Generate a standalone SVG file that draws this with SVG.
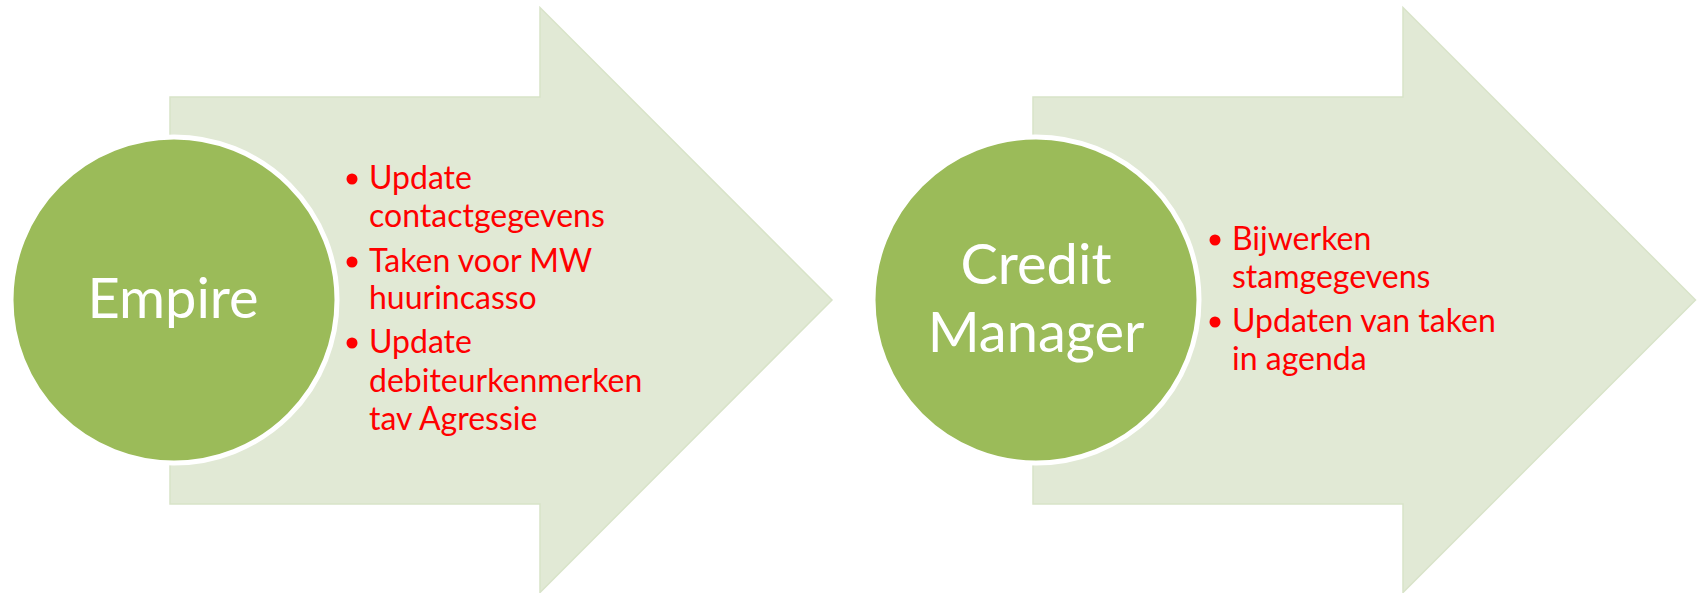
<svg xmlns="http://www.w3.org/2000/svg" width="1698" height="593" viewBox="0 0 1698 593">
<style>
.arrow{fill:#E1E9D5;stroke:#D8E3C8;stroke-width:1.5}
.circ{fill:#9BBB59;stroke:#FFFFFF;stroke-width:5}
.title{font-family:Lato,"Open Sans",sans-serif;font-size:56px;fill:#FFFFFF;text-anchor:middle}
.item{font-family:Lato,"Open Sans",sans-serif;font-size:32px;fill:#FF0000}
.dot{fill:#FF0000}
</style>
<rect width="1698" height="593" fill="#FFFFFF"/>
<g id="arrow1">
<polygon class="arrow" points="170,97 540,97 540,7.5 832,300 540,592.5 540,504 170,504"/>
</g>
<g id="arrow2">
<polygon class="arrow" points="1033,97 1403,97 1403,7.5 1695.5,300 1403,592.5 1403,504 1033,504"/>
</g>
<g id="node-empire">
<circle class="circ" cx="174" cy="300" r="163"/>
<text class="title" x="173" y="318">Empire</text>
</g>
<g id="node-empire-items">
<circle class="dot" cx="352" cy="179" r="5.5"/>
<text class="item" x="369" y="189">Update</text>
<text class="item" x="369" y="227">contactgegevens</text>
<circle class="dot" cx="352" cy="262" r="5.5"/>
<text class="item" x="369" y="272">Taken voor MW</text>
<text class="item" x="369" y="309">huurincasso</text>
<circle class="dot" cx="352" cy="343" r="5.5"/>
<text class="item" x="369" y="353">Update</text>
<text class="item" x="369" y="392">debiteurkenmerken</text>
<text class="item" x="369" y="430">tav Agressie</text>
</g>
<g id="node-credit-manager">
<circle class="circ" cx="1036" cy="300" r="163"/>
<text class="title" x="1036" y="284">Credit</text>
<text class="title" x="1036" y="352">Manager</text>
</g>
<g id="node-credit-items">
<circle class="dot" cx="1215" cy="240" r="5.5"/>
<text class="item" x="1232" y="250">Bijwerken</text>
<text class="item" x="1232" y="288">stamgegevens</text>
<circle class="dot" cx="1215" cy="322" r="5.5"/>
<text class="item" x="1232" y="332">Updaten van taken</text>
<text class="item" x="1232" y="370">in agenda</text>
</g>
<g id="connectors"></g>
</svg>
